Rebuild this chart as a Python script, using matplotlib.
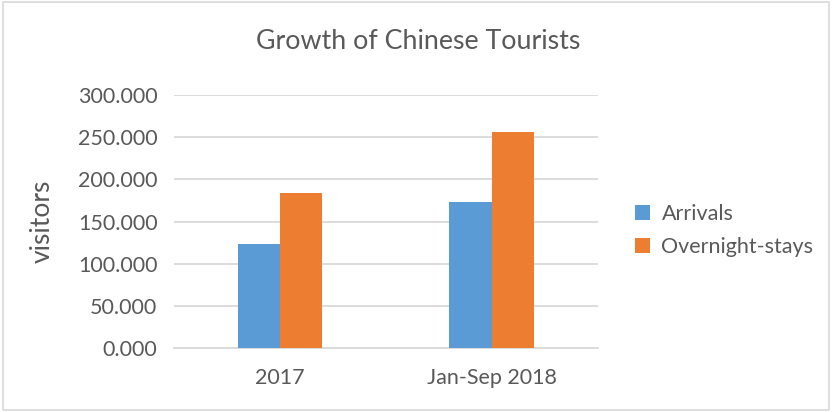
import numpy as np
import matplotlib as mpl
mpl.use('Agg')
import matplotlib.pyplot as plt
from matplotlib.ticker import FuncFormatter
from matplotlib.patches import Rectangle

plt.rcParams['font.family'] = ['Lato', 'DejaVu Sans']

categories = ['2017', 'Jan-Sep 2018']
arrivals = [123200, 173000]
overnight = [183600, 255900]
series_names = ['Arrivals', 'Overnight-stays']
yticks = [0, 50000, 100000, 150000, 200000, 250000, 300000]

blue = '#5B9BD5'
orange = '#ED7D31'
grey_text = '#595959'

fig = plt.figure(figsize=(8.37, 4.12), dpi=100)
ax = fig.add_axes([0.208, 0.1546, 0.506, 0.6148])

x = np.arange(len(categories))
w = 0.2
ax.bar(x - w/2, arrivals, w, color=blue, label=series_names[0], zorder=3)
ax.bar(x + w/2, overnight, w, color=orange, label=series_names[1], zorder=3)

ax.set_xlim(-0.5, 1.5)
ax.set_ylim(0, 300000)
ax.set_yticks(yticks)
ax.yaxis.set_major_formatter(FuncFormatter(lambda v, p: f'{v/1000:.3f}'))
ax.set_xticks(x)
ax.set_xticklabels(categories)
ax.grid(axis='y', color='#d9d9d9', linewidth=1.3, zorder=0)
for s in ['top', 'right', 'left']:
    ax.spines[s].set_visible(False)
ax.spines['bottom'].set_color('#d9d9d9')
ax.spines['bottom'].set_linewidth(1.3)
ax.tick_params(length=0, labelsize=15.5, colors=grey_text)
ax.tick_params(axis='y', pad=12)
ax.tick_params(axis='x', pad=14)

ax.set_ylabel('visitors', fontsize=19, color=grey_text)
ax.yaxis.set_label_coords(-0.282, 0.5)
fig.text(0.5, 0.9, 'Growth of Chinese Tourists', fontsize=19.3, color=grey_text,
         ha='center', va='center')

fig.legend(loc='center left', bbox_to_anchor=(0.735, 0.44), frameon=False,
           fontsize=15.5, labelcolor=grey_text, handlelength=0.7, handleheight=0.7,
           handletextpad=0.55, labelspacing=0.6)

fig.patches.append(Rectangle((0.003, 0.005), 0.988, 0.99, transform=fig.transFigure,
                             fill=False, edgecolor='#d9d9d9', linewidth=1.2))

fig.savefig('out.png', dpi=100)
